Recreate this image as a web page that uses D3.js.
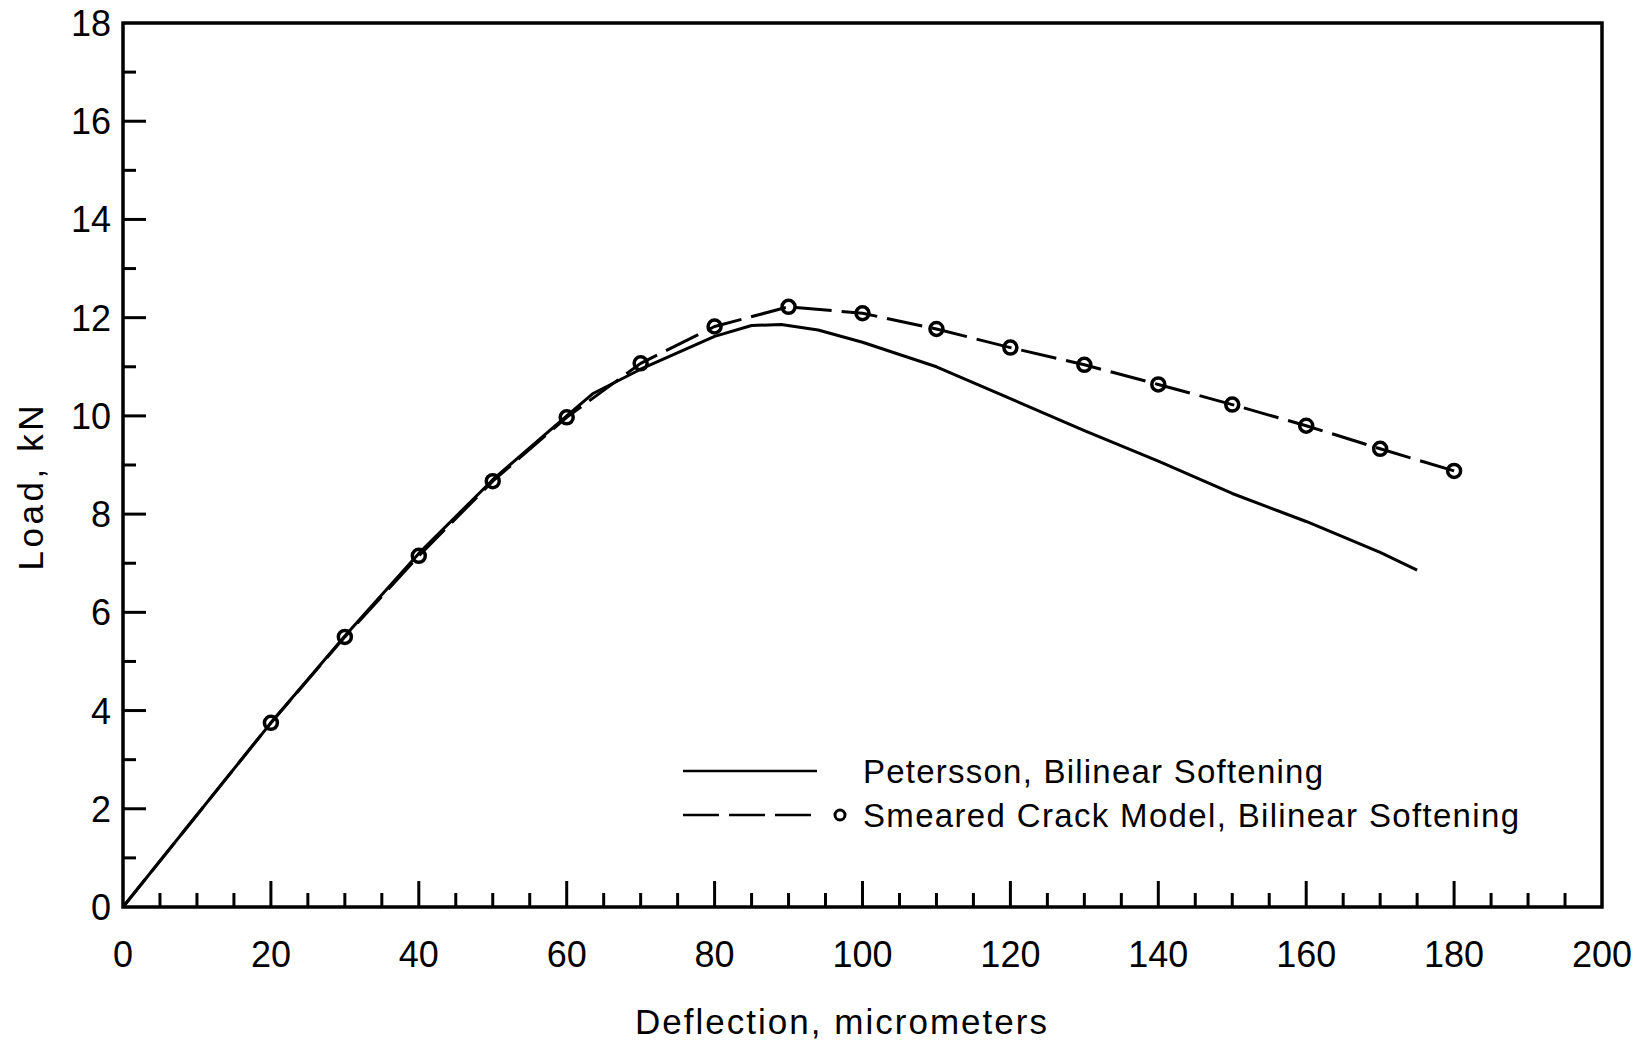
<!DOCTYPE html>
<html>
<head>
<meta charset="utf-8">
<script src="https://cdn.jsdelivr.net/npm/d3@7"></script>
<style>
  body { margin: 0; background: #fff; }
  text { font-family: "Liberation Sans", Arial, sans-serif; fill: #000; }
  .line { fill: none; stroke: #000; stroke-width: 3; stroke-linejoin: round; }
  .dashed { stroke-dasharray: 36 10; }
  .marker { fill: none; stroke: #000; stroke-width: 3.5; }
  .axis-line { stroke: #000; stroke-width: 3.5; fill: none; }
  .tick { stroke: #000; stroke-width: 3; }
</style>
</head>
<body>
<div id="wrapper"></div>
<script>
// Petersson, bilinear softening (solid line)
const peterssonDeflection = [0, 20, 30, 40, 50, 60, 63.5, 70, 80, 85, 89, 94, 100, 110, 120, 130, 140, 150, 160, 170, 175];
const peterssonLoad = [0, 3.75, 5.52, 7.2, 8.7, 10.0, 10.45, 10.95, 11.62, 11.84, 11.86, 11.75, 11.5, 11.0, 10.35, 9.7, 9.08, 8.42, 7.85, 7.22, 6.86];

// Smeared crack model, bilinear softening (dashed line with circles)
const smearedDeflection = [0, 20, 30, 40, 50, 60, 70, 80, 90, 100, 110, 120, 130, 140, 150, 160, 170, 180];
const smearedLoad = [0, 3.75, 5.5, 7.15, 8.67, 9.97, 11.07, 11.82, 12.22, 12.09, 11.77, 11.39, 11.04, 10.64, 10.23, 9.8, 9.33, 8.88];

const xTickValues = [0, 20, 40, 60, 80, 100, 120, 140, 160, 180, 200];
const xMinorTicks = d3.range(5, 200, 5).filter((d) => d % 20 !== 0);
const yTickValues = [0, 2, 4, 6, 8, 10, 12, 14, 16, 18];
const yMinorTicks = d3.range(1, 18, 2);

const legendLabels = ["Petersson, Bilinear Softening", "Smeared Crack Model, Bilinear Softening"];

// Dimensions
let dimensions = {
  width: 1646,
  height: 1046,
  margin: { top: 23, right: 44, bottom: 139, left: 123 },
};
dimensions.boundedWidth = dimensions.width - dimensions.margin.left - dimensions.margin.right;
dimensions.boundedHeight = dimensions.height - dimensions.margin.top - dimensions.margin.bottom;

const wrapper = d3
  .select("#wrapper")
  .append("svg")
  .attr("width", dimensions.width)
  .attr("height", dimensions.height);
const bounds = wrapper
  .append("g")
  .attr("transform", `translate(${dimensions.margin.left},${dimensions.margin.top})`);

// Scales
const xScale = d3.scaleLinear().domain([0, 200]).range([0, dimensions.boundedWidth]);
const yScale = d3.scaleLinear().domain([0, 18]).range([dimensions.boundedHeight, 0]);

// Frame
bounds
  .append("rect")
  .attr("class", "axis-line")
  .attr("width", dimensions.boundedWidth)
  .attr("height", dimensions.boundedHeight);

// Ticks (inside the frame)
const drawTicks = (values, isX, len) => {
  bounds
    .append("g")
    .selectAll("line")
    .data(values)
    .join("line")
    .attr("class", "tick")
    .attr("x1", (d) => (isX ? xScale(d) : 0))
    .attr("x2", (d) => (isX ? xScale(d) : len))
    .attr("y1", (d) => (isX ? dimensions.boundedHeight : yScale(d)))
    .attr("y2", (d) => (isX ? dimensions.boundedHeight - len : yScale(d)));
};
drawTicks(xTickValues.slice(1, -1), true, 26);
drawTicks(xMinorTicks, true, 14);
drawTicks(yTickValues.slice(1, -1), false, 23);
drawTicks(yMinorTicks, false, 13);

// Tick labels
bounds
  .append("g")
  .selectAll("text")
  .data(xTickValues)
  .join("text")
  .attr("x", (d) => xScale(d))
  .attr("y", dimensions.boundedHeight + 60)
  .attr("text-anchor", "middle")
  .style("font-size", "36px")
  .text((d) => d);
bounds
  .append("g")
  .selectAll("text")
  .data(yTickValues)
  .join("text")
  .attr("x", -12)
  .attr("y", (d) => yScale(d) + 13)
  .attr("text-anchor", "end")
  .style("font-size", "36px")
  .text((d) => d);

// Axis titles
wrapper
  .append("text")
  .attr("x", 841)
  .attr("y", 1034)
  .attr("text-anchor", "middle")
  .attr("textLength", 412)
  .style("font-size", "35px")
  .text("Deflection, micrometers");
wrapper
  .append("text")
  .attr("transform", "translate(43,488) rotate(-90)")
  .attr("text-anchor", "middle")
  .attr("textLength", 165)
  .style("font-size", "35px")
  .text("Load, kN");

// Lines
const lineGenerator = d3
  .line()
  .x((d) => xScale(d[0]))
  .y((d) => yScale(d[1]));

const peterssonData = d3.zip(peterssonDeflection, peterssonLoad);
const smearedData = d3.zip(smearedDeflection, smearedLoad);

bounds.append("path").attr("class", "line").attr("d", lineGenerator(peterssonData));
bounds.append("path").attr("class", "line dashed").attr("d", lineGenerator(smearedData));

bounds
  .append("g")
  .selectAll("circle")
  .data(smearedData.filter((d) => d[0] > 0))
  .join("circle")
  .attr("class", "marker")
  .attr("cx", (d) => xScale(d[0]))
  .attr("cy", (d) => yScale(d[1]))
  .attr("r", 6.5);

// Legend
const legend = wrapper.append("g");
const legendRows = [
  { y: 771, dashed: false, marker: false, width: 460 },
  { y: 815, dashed: true, marker: true, width: 656 },
];
legendRows.forEach((row, i) => {
  legend
    .append("line")
    .attr("class", row.dashed ? "line dashed" : "line")
    .attr("x1", 683)
    .attr("x2", 817)
    .attr("y1", row.y)
    .attr("y2", row.y)
    .style("stroke-width", 2.5);
  if (row.marker) {
    legend
      .append("circle")
      .attr("class", "marker")
      .attr("cx", 840)
      .attr("cy", row.y)
      .attr("r", 5)
      .style("stroke-width", 3);
  }
  legend
    .append("text")
    .attr("x", 863)
    .attr("y", row.y + 12)
    .attr("textLength", row.width)
    .style("font-size", "33px")
    .text(legendLabels[i]);
});
</script>
</body>
</html>
